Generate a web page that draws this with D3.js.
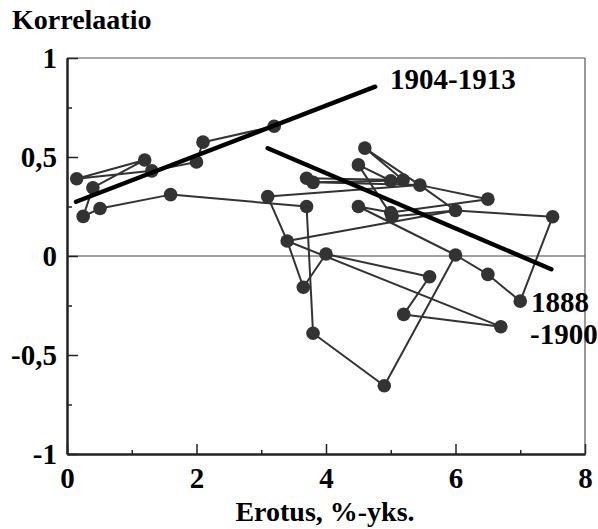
<!DOCTYPE html>
<html><head><meta charset="utf-8">
<script src="https://cdn.jsdelivr.net/npm/d3@7"></script>
<style>body{margin:0;background:#fff} svg{display:block}
.lbl{font-family:"Liberation Serif","Times New Roman",Times,serif;font-weight:bold;fill:#000}
</style>
</head><body>
<svg id="chart" width="598" height="529"></svg>
<script>
// ---- data ----
const pointNames = ["A","B","C","D","E","F","G","H","I","J","K","L","L2","M","N","R","O","S","T","U","V","V2","W","X","Y","P","Q","Z","AA","AB","AC","AD","AE","AF","AG","AH"];
const xValues = [0.15,0.25,0.40,0.51,1.20,1.31,1.60,2.00,2.10,3.20,3.10,3.70,3.80,3.70,4.50,4.60,4.50,5.00,5.19,5.45,5.00,5.02,6.00,6.50,7.50,3.40,4.00,6.00,5.60,6.50,3.65,3.80,4.90,5.20,7.00,6.70];
const yValues = [0.39,0.20,0.345,0.24,0.485,0.43,0.31,0.475,0.575,0.655,0.30,0.393,0.372,0.25,0.46,0.545,0.25,0.38,0.384,0.358,0.22,0.20,0.23,0.287,0.198,0.076,0.01,0.005,-0.105,-0.093,-0.158,-0.39,-0.655,-0.295,-0.228,-0.357];
const chains = [
  ["J","I","H","F","A","E","C","B","D","G","M","AD","AE","Z","AB","AG","Y","W","U","X","V","O","Z"],
  ["T","R","U"],
  ["S","N","V2","W"],
  ["T","L"],
  ["S","L2","U"],
  ["U","K","P","W"],
  ["P","AC","Q","AA","AF","AH","P"]
];
const trendNames = ["1904-1913","1888-1900"];
const trendX = [[0.14,4.76],[3.10,7.48]];
const trendY = [[0.274,0.855],[0.544,-0.067]];
const xMajorTicks = [0,2,4,6,8];
const xMinorTicks = [1,3,5,7];
const yMajorTicks = [-1,-0.5,0,0.5,1];
const yMinorTicks = [-0.75,-0.25,0.25,0.75];
const yTickLabels = ["-1","-0,5","0","0,5","1"];
const yTitle = "Korrelaatio";
const xTitle = "Erotus, %-yks.";

// ---- chart ----
const svg = d3.select("#chart");
const x = d3.scaleLinear().domain([0,8]).range([67,585]);
const y = d3.scaleLinear().domain([-1,1]).range([454,58]);
const ink = "#333";

// box top/right
svg.append("line").attr("x1",x(0)).attr("x2",x(8)).attr("y1",y(1)).attr("y2",y(1)).attr("stroke","#555").attr("stroke-width",1.2);
svg.append("line").attr("x1",x(8)).attr("x2",x(8)).attr("y1",y(1)).attr("y2",y(-1)).attr("stroke","#555").attr("stroke-width",1.2);
// zero line
svg.append("line").attr("x1",x(0)).attr("x2",x(8)).attr("y1",y(0)).attr("y2",y(0)).attr("stroke","#444").attr("stroke-width",1.2);

// x axis
const gx = svg.append("g").attr("transform",`translate(0,${y(-1)})`);
gx.call(d3.axisBottom(x).tickValues(xMinorTicks).tickSizeInner(-4).tickSizeOuter(0).tickFormat(""));
const gx2 = svg.append("g").attr("transform",`translate(0,${y(-1)})`);
gx2.call(d3.axisBottom(x).tickValues(xMajorTicks).tickSizeInner(-10).tickSizeOuter(0).tickFormat(d3.format("d")));
[gx,gx2].forEach(g=>{
  g.attr("font-family",null).attr("font-size",null);
  g.select(".domain").attr("stroke","#222").attr("stroke-width",2);
  g.selectAll(".tick line").attr("stroke","#222").attr("stroke-width",1.5);
});
gx2.selectAll(".tick text").attr("class","lbl").attr("y",34).attr("dy",null)
  .attr("font-size",29).attr("fill","#000");

// y axis
const gy = svg.append("g").attr("transform",`translate(${x(0)},0)`);
gy.call(d3.axisLeft(y).tickValues(yMinorTicks).tickSizeInner(-5).tickSizeOuter(0).tickFormat(""));
const gy2 = svg.append("g").attr("transform",`translate(${x(0)},0)`);
gy2.call(d3.axisLeft(y).tickValues(yMajorTicks).tickSizeInner(-11).tickSizeOuter(0)
  .tickFormat((d,i)=>yTickLabels[i]));
[gy,gy2].forEach(g=>{
  g.attr("font-family",null).attr("font-size",null);
  g.select(".domain").attr("stroke","#222").attr("stroke-width",2);
  g.selectAll(".tick line").attr("stroke","#222").attr("stroke-width",1.5);
});
gy2.selectAll(".tick text").attr("class","lbl").attr("x",-10).attr("dy","0.34em")
  .attr("font-size",29).attr("fill","#000");

// paths
const idx = n => pointNames.indexOf(n);
const line = d3.line().x(n=>x(xValues[idx(n)])).y(n=>y(yValues[idx(n)]));
svg.append("g").selectAll("path").data(chains).join("path")
  .attr("d",line).attr("fill","none").attr("stroke",ink).attr("stroke-width",2).attr("stroke-linejoin","round");

// points
svg.append("g").selectAll("circle").data(pointNames).join("circle")
  .attr("cx",n=>x(xValues[idx(n)])).attr("cy",n=>y(yValues[idx(n)])).attr("r",6.8).attr("fill",ink);

// trend lines
svg.append("g").selectAll("line").data(trendNames).join("line")
  .attr("x1",(d,i)=>x(trendX[i][0])).attr("x2",(d,i)=>x(trendX[i][1]))
  .attr("y1",(d,i)=>y(trendY[i][0])).attr("y2",(d,i)=>y(trendY[i][1]))
  .attr("stroke","#000").attr("stroke-width",4.5).attr("stroke-linecap","round");

// labels
const txt = (s,xx,yy,size,anchor)=>svg.append("text").attr("class","lbl").attr("x",xx).attr("y",yy).text(s)
  .attr("font-size",size).attr("text-anchor",anchor||"start");
txt(trendNames[0],390,89,29);
const parts = trendNames[1].split("-");
txt(parts[0],531,312,29);
txt("-"+parts[1],530,344,29);
txt(yTitle,12,29,28);
txt(xTitle,325,521,28,"middle");
</script>
</body></html>
